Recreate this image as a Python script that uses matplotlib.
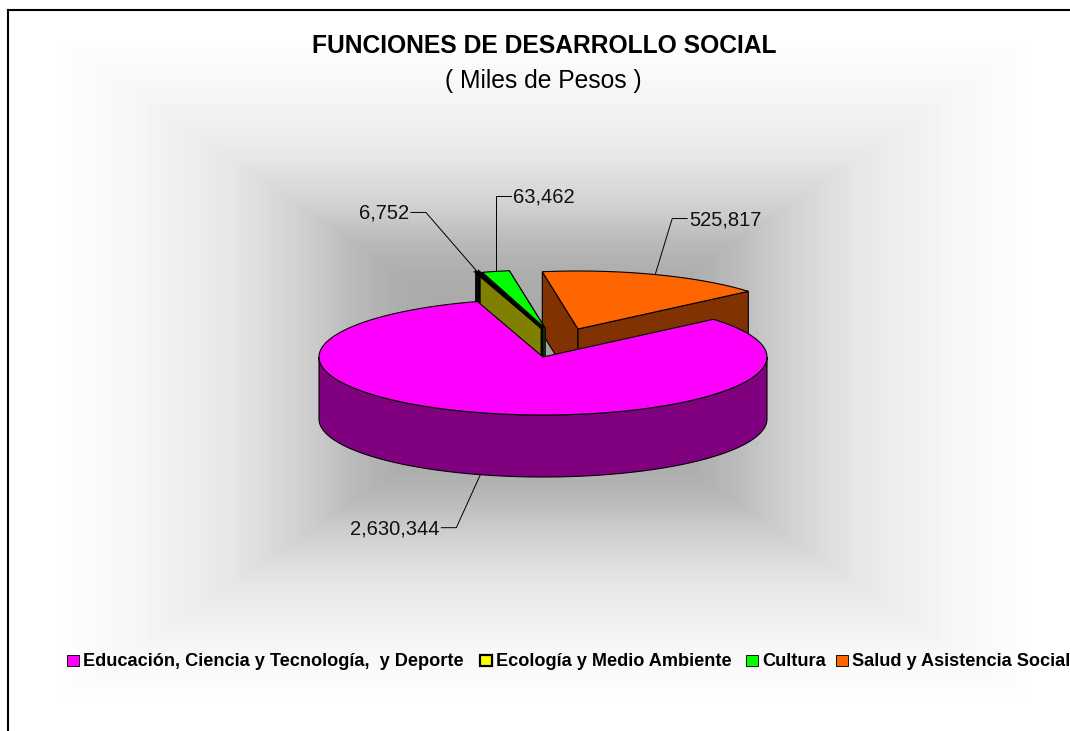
import numpy as np
import matplotlib
matplotlib.use('Agg')
import matplotlib.pyplot as plt
from matplotlib.patches import Polygon, Rectangle

plt.rcParams['font.family'] = ['Liberation Sans', 'DejaVu Sans']

# datos de la grafica
categorias = ['Educación, Ciencia y Tecnología,  y Deporte', 'Ecología y Medio Ambiente', 'Cultura', 'Salud y Asistencia Social']
valores = [2630344, 6752, 63462, 525817]
titulo = 'FUNCIONES DE DESARROLLO SOCIAL'
subtitulo = '( Miles de Pesos )'

colores = ['#FF00FF', '#FFFF00', '#00FF00', '#FF6600']
colores_lado = ['#800080', '#808000', '#008000', '#803300']

# geometria del pastel (en pixeles de la figura)
cx, cy = 543, 357
rx, ry = 224, 58
prof = 62
inicio = 49.5
desplaza = [(0, 0), (-1, -29), (2, -29), (35, -28)]
grosor = [0.8, 2.0, 0.8, 0.8]

# codo de la linea guia y posicion del texto, relativos al punto del borde
codos = [(-24, 53), (-52, -60), (0, -75), (17, -56)]
lado_texto = ['right', 'right', 'left', 'left']


def punto(ang, dx=0, dy=0, r=1.0):
    # angulo en grados, 0 arriba y sentido del reloj
    a = np.radians(ang)
    return cx + dx + r * rx * np.sin(a), cy + dy - r * ry * np.cos(a)


def arco(a0, a1, dx=0, dy=0):
    angs = np.linspace(a0, a1, 200)
    xs, ys = punto(angs, dx, dy)
    return np.column_stack([xs, ys])


def pared_radial(ang, dx, dy):
    x0, y0 = cx + dx, cy + dy
    x1, y1 = punto(ang, dx, dy)
    return [(x0, y0), (x1, y1), (x1, y1 + prof), (x0, y0 + prof)]


fig = plt.figure(figsize=(10.7, 7.31), dpi=100)
ax = fig.add_axes([0, 0, 1, 1])

# fondo degradado desde el centro
bx0, bx1, by0, by1 = 47, 1040, 33, 708
xx, yy = np.meshgrid(np.arange(bx0, bx1), np.arange(by0, by1))
t = np.maximum(np.abs(xx - (bx0 + bx1) / 2) / ((bx1 - bx0) / 2),
               np.abs(yy - (by0 + by1) / 2) / ((by1 - by0) / 2))
gris = np.interp(t, [0, 0.3, 0.386, 0.457, 0.5, 0.62, 0.68, 0.82, 0.96, 1],
                 [160, 174, 186, 202, 210, 229, 235, 246, 253, 255])
ax.imshow(gris, cmap='gray', vmin=0, vmax=255, extent=[bx0, bx1, by1, by0], zorder=0, interpolation='bilinear')

ax.set_xlim(0, 1070)
ax.set_ylim(731, 0)
ax.axis('off')

# marco
ax.plot([8, 8], [731, 10], color='black', lw=1.5, zorder=1)
ax.plot([8, 1070], [10, 10], color='black', lw=1.5, zorder=1)

# angulos a partir de los valores
total = sum(valores)
barrido = [v / total * 360 for v in valores]
ang0 = [inicio + sum(barrido[:i]) for i in range(len(valores))]
ang1 = [a + b for a, b in zip(ang0, barrido)]

# se dibuja de atras hacia adelante
z = 2
for i in [3, 2, 1, 0]:
    dx, dy = desplaza[i]
    lw = grosor[i]
    if i == 0:
        frente = arco(90, 270)
        pared = np.vstack([frente, (frente + [0, prof])[::-1]])
        ax.add_patch(Polygon(pared, fc=colores_lado[i], ec='black', lw=lw, zorder=z))
    else:
        for ang in (ang0[i], ang1[i]):
            ax.add_patch(Polygon(pared_radial(ang, dx, dy), fc=colores_lado[i], ec='black', lw=lw, zorder=z))
    z += 1
    cara = np.vstack([[cx + dx, cy + dy], arco(ang0[i], ang1[i], dx, dy)])
    ax.add_patch(Polygon(cara, fc=colores[i], ec='black', lw=lw, joinstyle='miter', zorder=z))
    z += 1

# etiquetas con linea guia
for i, v in enumerate(valores):
    dx, dy = desplaza[i]
    medio = (ang0[i] + ang1[i]) / 2
    x0, y0 = punto(medio, dx, dy)
    if i == 0:
        y0 += prof
    ex, ey = codos[i]
    x1, y1 = x0 + ex, y0 + ey
    signo = -1 if lado_texto[i] == 'right' else 1
    x2 = x1 + signo * 15
    ax.plot([x0, x1, x2], [y0, y1, y1], color='black', lw=0.7, zorder=20)
    ax.text(x2 + signo * 2, y1 + 1, f'{v:,}', ha=lado_texto[i], va='center', fontsize=14.5, color='#111111', zorder=21)

ax.text(544, 46, titulo, ha='center', va='center', fontsize=17.7, fontweight='bold', zorder=21)
ax.text(543, 81, subtitulo, ha='center', va='center', fontsize=17.7, zorder=21)

# leyenda
ley_x = [67, 480, 746, 836]
for i, nombre in enumerate(categorias):
    ax.add_patch(Rectangle((ley_x[i], 654.5), 11.5, 11.5, fc=colores[i], ec='black', lw=grosor[i] * 0.8, zorder=21))
    ax.text(ley_x[i] + 16, 661, nombre, ha='left', va='center', fontsize=13.05, fontweight='bold', zorder=21)

fig.savefig('out.png', dpi=100)
